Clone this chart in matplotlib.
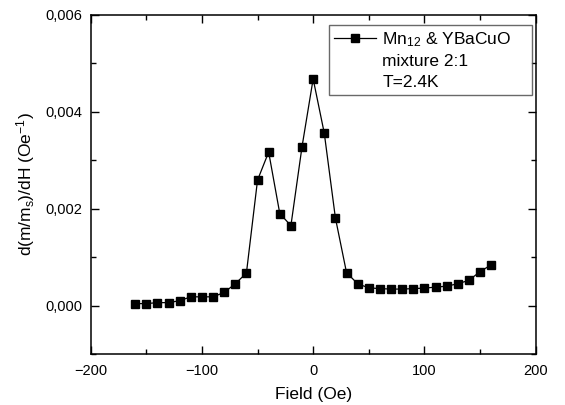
import matplotlib
matplotlib.use("Agg")
import matplotlib.pyplot as plt
from matplotlib.lines import Line2D
from matplotlib.ticker import MultipleLocator, FuncFormatter

plt.rcParams['font.family'] = ['Liberation Sans', 'DejaVu Sans']
plt.rcParams['mathtext.fontset'] = 'custom'
plt.rcParams['mathtext.rm'] = 'Liberation Sans'
plt.rcParams['mathtext.it'] = 'Liberation Sans'

field = [-160, -150, -140, -130, -120, -110, -100, -90, -80, -70, -60, -50, -40, -30, -20, -10,
         0, 10, 20, 30, 40, 50, 60, 70, 80, 90, 100, 110, 120, 130, 140, 150, 160]
deriv = [0.00004, 0.00004, 0.00006, 0.00006, 0.00010, 0.00018, 0.00018, 0.00018, 0.00027, 0.00045,
         0.00067, 0.00259, 0.00317, 0.00190, 0.00165, 0.00328, 0.00468, 0.00356, 0.00181, 0.00068,
         0.00045, 0.000365, 0.00035, 0.00034, 0.00034, 0.00035, 0.00036, 0.00038, 0.00040, 0.00045,
         0.00052, 0.00070, 0.00084]
legend_lines = ['Mn$_{12}$ & YBaCuO', 'mixture 2:1', 'T=2.4K']

fig = plt.figure(figsize=(5.65, 4.05), dpi=100)
ax = fig.add_axes([0.1605, 0.126, 0.7875, 0.837])
line, = ax.plot(field, deriv, color='black', lw=0.9, marker='s', ms=6)
ax.set_xlim(-200, 200)
ax.set_ylim(-0.001, 0.006)
ax.xaxis.set_major_locator(MultipleLocator(100))
ax.xaxis.set_minor_locator(MultipleLocator(50))
ax.yaxis.set_major_locator(MultipleLocator(0.002))
ax.yaxis.set_minor_locator(MultipleLocator(0.001))
ax.yaxis.set_major_formatter(FuncFormatter(lambda v, p: f"{v:.3f}".replace('.', ',').replace('-0,000', '0,000')))
ax.tick_params(which='both', direction='in', top=True, right=True, labelsize=10.5, width=1)
ax.tick_params(which='major', length=6)
ax.tick_params(which='minor', length=3.5)
ax.tick_params(axis='x', which='major', pad=7)
ax.tick_params(axis='y', which='major', pad=6)
for s in ax.spines.values():
    s.set_linewidth(1.1)
ax.set_xlabel('Field (Oe)', fontsize=12.5, labelpad=7)
ax.set_ylabel('d(m/m$_s$)/dH (Oe$^{-1}$)', fontsize=12.5, labelpad=6)

blank = Line2D([], [], color='none')
labels = [legend_lines[0] + '    ', legend_lines[1], legend_lines[2]]
leg = ax.legend([line, blank, blank], labels, loc='upper right',
                bbox_to_anchor=(0.9917, 0.9705), borderaxespad=0, fontsize=12.5, frameon=True,
                fancybox=False, edgecolor='#444444', handlelength=2.4, borderpad=0.3,
                handletextpad=0.38, labelspacing=0.3)
leg.get_frame().set_linewidth(1.0)
fig.savefig('out.png', dpi=100)
